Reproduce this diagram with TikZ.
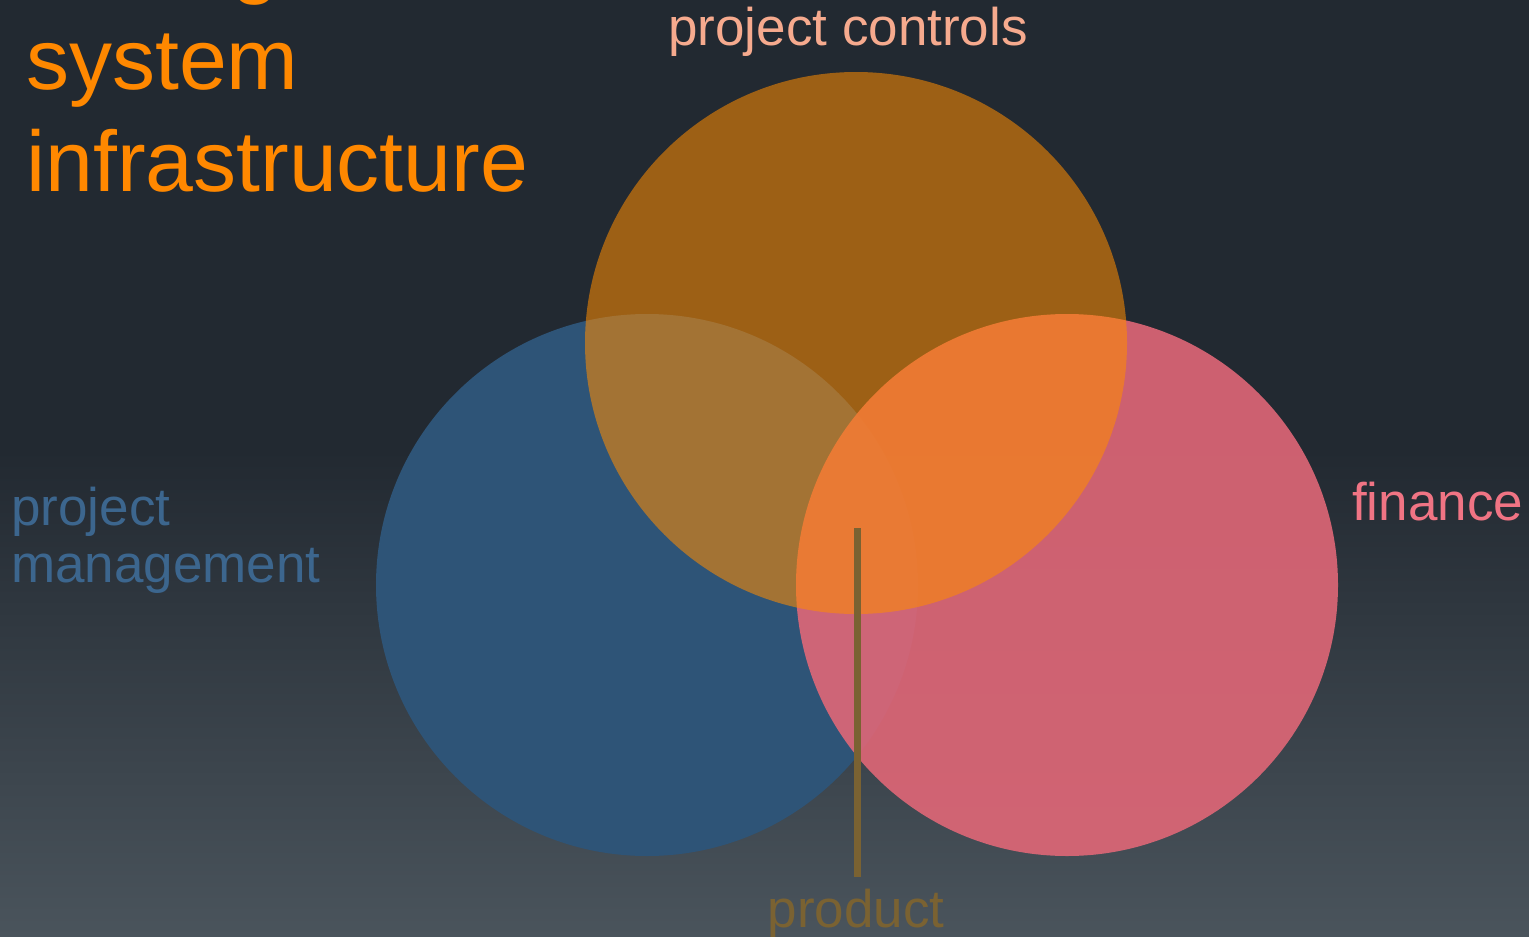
\documentclass[tikz,border=0pt]{standalone}
\usepackage{fontspec}
\setmainfont{Liberation Sans}
\definecolor{bgtop}{RGB}{34,41,49}
\definecolor{bgbot}{RGB}{74,84,92}
\definecolor{pmblue}{RGB}{46,84,119}
\definecolor{finpink}{RGB}{224,103,119}
\definecolor{pcorange}{RGB}{255,140,0}
\definecolor{titleorange}{RGB}{255,136,0}
\definecolor{pclabel}{RGB}{246,170,142}
\definecolor{pmlabel}{RGB}{60,102,142}
\definecolor{finlabel}{RGB}{240,116,132}
\definecolor{prodcol}{RGB}{122,98,50}
\begin{document}
\begin{tikzpicture}[x=1pt,y=-1pt,
  lbl/.style={font=\fontsize{53}{57}\selectfont, inner sep=0pt},
  titletext/.style={font=\fontsize{86}{102}\selectfont, text=titleorange, inner sep=0pt, anchor=base west},
  setcircle/.style={circle, minimum size=542pt, inner sep=0pt}]
\clip (0,0) rectangle (1529,937);
\fill[bgtop] (0,0) rectangle (1529,451);
\fill[top color=bgtop, bottom color=bgbot] (0,450) rectangle (1529,937);
% title
\node[titletext] (t0) at (26,-13) {testing};
\node[titletext] (t1) at (26,89) {system};
\node[titletext] (t2) at (26,191) {infrastructure};
% sets
\node[setcircle, fill=pmblue] (pm) at (647,585) {};
\node[setcircle, fill=finpink, fill opacity=0.9] (fin) at (1067,585) {};
\node[setcircle, fill=pcorange, fill opacity=0.56] (pc) at (856,343) {};
% labels
\node[lbl, text=pclabel, anchor=base] (pcl) at (848,45) {project controls};
\node[lbl, text=pmlabel, anchor=base west] (pml1) at (11,525) {project};
\node[lbl, text=pmlabel, anchor=base west] (pml2) at (11,582) {management};
\node[lbl, text=finlabel, anchor=base west] (finl) at (1352,520) {finance};
\node[lbl, text=prodcol, anchor=base] (prod) at (856,927) {product};
% product pointer
\coordinate (ptop) at (857,528);
\coordinate (pbot) at (857,877);
\draw[prodcol, line width=7pt] (ptop) -- (pbot);
\end{tikzpicture}
\end{document}
